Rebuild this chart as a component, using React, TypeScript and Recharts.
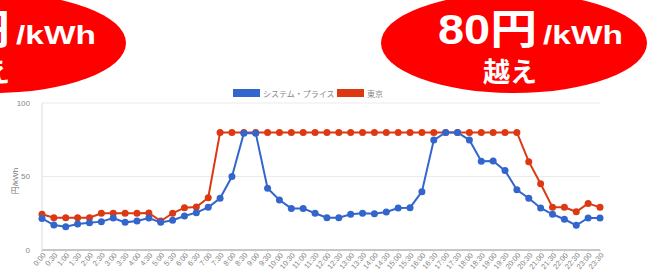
import React from "react";
import { LineChart, Line, XAxis, YAxis, CartesianGrid, Legend, Label } from "recharts";

const times = [
  "0:00", "0:30", "1:00", "1:30", "2:00", "2:30", "3:00", "3:30",
  "4:00", "4:30", "5:00", "5:30", "6:00", "6:30", "7:00", "7:30",
  "8:00", "8:30", "9:00", "9:30", "10:00", "10:30", "11:00", "11:30",
  "12:00", "12:30", "13:00", "13:30", "14:00", "14:30", "15:00", "15:30",
  "16:00", "16:30", "17:00", "17:30", "18:00", "18:30", "19:00", "19:30",
  "20:00", "20:30", "21:00", "21:30", "22:00", "22:30", "23:00", "23:30",
];

const systemPrice = [
  21.5, 17, 15.9, 17.7, 18.6, 19.3, 21.8, 18.8,
  19.7, 21.8, 18.8, 20.2, 23.1, 25.4, 29, 35.2,
  50, 79.5, 79.5, 42, 34, 28.3, 28.3, 25,
  22, 22, 24.3, 25, 24.6, 25.9, 28.6, 28.8,
  39.7, 74.8, 80, 80, 74.8, 60.3, 60.5, 54,
  41, 35.2, 28.6, 24.3, 20.9, 16.8, 21.8, 21.8,
];

const tokyo = [
  24.3, 22, 22, 22, 22, 25, 25, 25,
  25, 25.2, 19.7, 25, 28.8, 29.2, 35.6, 80,
  80, 80, 80, 80, 80, 80, 80, 80,
  80, 80, 80, 80, 80, 80, 80, 80,
  80, 80, 80, 80, 80, 80, 80, 80,
  80, 60.1, 45.1, 29, 29, 26, 31.7, 29,
];

const yTicks = [0, 50, 100];

const seriesNames = { system: "システム・プライス", tokyo: "東京" };
const BLUE = "#3366cc";
const RED = "#dc3912";
const FONT = "'Liberation Sans', Arial, 'Noto Sans CJK JP', sans-serif";

const data = times.map((t, i) => ({ time: t, system: systemPrice[i], tokyo: tokyo[i] }));

const LegendContent = () => (
  <svg width={648} height={14} style={{ display: "block" }}>
    <rect x={233} y={0} width={27} height={8} fill={BLUE} />
    <text x={263} y={7.5} fontSize={8} fill="#888" fontFamily={FONT}>{seriesNames.system}</text>
    <rect x={337} y={0} width={27} height={8} fill={RED} />
    <text x={367} y={7.5} fontSize={8} fill="#888" fontFamily={FONT}>{seriesNames.tokyo}</text>
  </svg>
);

const Bubble = ({ cx, tx }: { cx: number; tx: number }) => (
  <g>
    <ellipse cx={cx} cy={43} rx={133} ry={50} fill="#ff0000" />
    <text x={tx} y={44} fontSize={42} fontWeight="bold" fill="#fff" fontFamily={FONT}
      textLength={99} lengthAdjust="spacingAndGlyphs">80円</text>
    <text x={tx + 105} y={44} fontSize={25} fontWeight="bold" fill="#fff" fontFamily={FONT}
      textLength={80} lengthAdjust="spacingAndGlyphs">/kWh</text>
    <text x={tx + 45} y={82} fontSize={27} fontWeight="bold" fill="#fff" fontFamily={FONT}
      textLength={54} lengthAdjust="spacingAndGlyphs">越え</text>
  </g>
);

export default function App() {
  return (
    <div style={{ position: "absolute", left: 0, top: 0, width: 648, height: 271, background: "#fff", fontFamily: FONT }}>
      <LineChart width={648} height={271} data={data} margin={{ top: 89, right: 48, left: 0, bottom: 0 }}>
        <CartesianGrid vertical={false} stroke="#ebebeb" />
        <Legend verticalAlign="top" align="left" content={<LegendContent />}
          wrapperStyle={{ left: 0, width: 648, height: 14, top: 89 }} />
        <XAxis dataKey="time" interval={0} height={21} tickSize={2} tickMargin={0}
          axisLine={{ stroke: "#999" }} tickLine={{ stroke: "#ccc" }}
          tick={{ fontSize: 7.5, fill: "#888", angle: -50, textAnchor: "end", fontFamily: FONT }} />
        <YAxis width={42} domain={[0, 100]} ticks={yTicks} tickLine={false}
          axisLine={{ stroke: "#ddd" }} tickMargin={6}
          tick={{ fontSize: 8, fill: "#888", fontFamily: FONT }}>
          <Label content={() => (
            <text x={15} y={181} transform="rotate(-90, 15, 181)" textAnchor="middle"
              dominantBaseline="central" fontSize={8} fill="#777" fontFamily={FONT}>円/kWh</text>
          )} />
        </YAxis>
        <Line type="linear" dataKey="tokyo" name={seriesNames.tokyo} stroke={RED} strokeWidth={2}
          dot={{ r: 3.5, fill: RED, stroke: RED, strokeWidth: 0 }} isAnimationActive={false} />
        <Line type="linear" dataKey="system" name={seriesNames.system} stroke={BLUE} strokeWidth={2}
          dot={{ r: 3.5, fill: BLUE, stroke: BLUE, strokeWidth: 0 }} isAnimationActive={false} />
      </LineChart>
      <svg width={648} height={100} style={{ position: "absolute", left: 0, top: 0, pointerEvents: "none" }}>
        <Bubble cx={-7} tx={-89} />
        <Bubble cx={514} tx={438} />
      </svg>
    </div>
  );
}
